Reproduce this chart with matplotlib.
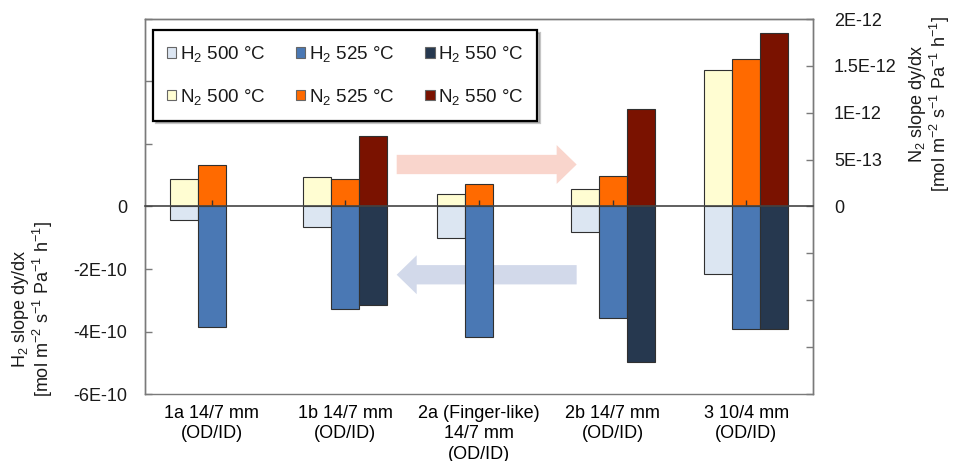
import numpy as np
import matplotlib
matplotlib.use("Agg")
import matplotlib.pyplot as plt
from matplotlib.ticker import FuncFormatter

plt.rcParams['font.family'] = ['Liberation Sans', 'DejaVu Sans']
plt.rcParams['mathtext.fontset'] = 'custom'
plt.rcParams['mathtext.rm'] = 'Liberation Sans'
plt.rcParams['mathtext.it'] = 'Liberation Sans:italic'
plt.rcParams['mathtext.default'] = 'regular'
plt.rcParams['font.size'] = 13
plt.rcParams['text.color'] = '#1a1a1a'

# Module geometries
categories = ["1a 14/7 mm\n(OD/ID)", "1b 14/7 mm\n(OD/ID)",
              "2a (Finger-like)\n14/7 mm\n(OD/ID)", "2b 14/7 mm\n(OD/ID)",
              "3 10/4 mm\n(OD/ID)"]

# H2 slope dy/dx [mol m-2 s-1 Pa-1 h-1] (left axis)
h2_500 = [-0.44e-10, -0.67e-10, -1.01e-10, -0.83e-10, -2.17e-10]
h2_525 = [-3.85e-10, -3.28e-10, -4.18e-10, -3.57e-10, -3.92e-10]
h2_550 = [np.nan, -3.16e-10, np.nan, -4.96e-10, -3.92e-10]

# N2 slope dy/dx [mol m-2 s-1 Pa-1 h-1] (right axis)
n2_500 = [2.95e-13, 3.16e-13, 1.28e-13, 1.88e-13, 1.46e-12]
n2_525 = [4.47e-13, 2.95e-13, 2.45e-13, 3.30e-13, 1.57e-12]
n2_550 = [np.nan, 7.52e-13, np.nan, 1.04e-12, 1.85e-12]

h2_ticks = [-6e-10, -4e-10, -2e-10, 0.0, 2e-10, 4e-10, 6e-10]
n2_ticks = [-2e-12, -1.5e-12, -1e-12, -5e-13, 0.0, 5e-13, 1e-12, 1.5e-12, 2e-12]

h2_colors = ['#DCE6F2', '#4A78B4', '#26384F']
n2_colors = ['#FFFDD2', '#FF6A00', '#7A1200']
temps = ['500', '525', '550']

edge = '#303030'
frame = '#7a7a7a'
fs = 13

fig = plt.figure(figsize=(9.56, 4.61), dpi=100)
ax = fig.add_axes([145 / 956, 1 - 394 / 461, 668 / 956, 375 / 461])
ax2 = ax.twinx()
ax.set_zorder(ax2.get_zorder() + 1)
ax.patch.set_visible(False)

x = np.arange(len(categories))
w = 0.21
offsets = [-w, 0.0, w]

h2_handles = []
for vals, col, off, t in zip([h2_500, h2_525, h2_550], h2_colors, offsets, temps):
    b = ax.bar(x + off, vals, w, color=col, edgecolor=edge, linewidth=0.8,
               label=f'H$_2$ {t} °C', zorder=2)
    h2_handles.append(b)

n2_handles = []
for vals, col, off, t in zip([n2_500, n2_525, n2_550], n2_colors, offsets, temps):
    b = ax2.bar(x + off, vals, w, color=col, edgecolor=edge, linewidth=0.8,
                label=f'N$_2$ {t} °C', zorder=2)
    n2_handles.append(b)

ax.set_xlim(-0.5, len(categories) - 0.5)
ax.set_ylim(h2_ticks[0], h2_ticks[-1])
ax2.set_ylim(n2_ticks[0], n2_ticks[-1])


def excel_sci(v):
    if abs(v) < 1e-20:
        return '0'
    return f'{v:.1E}'.replace('.0E', 'E')


ax.set_yticks(h2_ticks)
ax.yaxis.set_major_formatter(FuncFormatter(lambda v, p: excel_sci(v) if v <= 1e-20 else ''))
ax.tick_params(axis='y', direction='in', length=5, width=1, color=frame, pad=13,
               labelsize=fs, labelcolor='#1a1a1a')

ax2.set_yticks(n2_ticks)
ax2.yaxis.set_major_formatter(FuncFormatter(lambda v, p: excel_sci(v) if v >= -1e-20 else ''))
ax2.tick_params(axis='y', direction='in', length=5, width=1, color=frame, pad=15,
                labelsize=fs, labelcolor='#1a1a1a')

# Category axis crosses at zero
ax.spines['bottom'].set_position(('data', 0))
ax.spines['bottom'].set_color('#444444')
ax.spines['bottom'].set_linewidth(1.2)
ax.set_xticks(x)
ax.tick_params(axis='x', direction='inout', length=8, width=1, color='#333333',
               labelbottom=False)

# Category labels along the bottom of the frame
sec = ax.secondary_xaxis('bottom')
sec.set_xticks(x, categories)
sec.tick_params(length=0, pad=8, labelsize=fs)
sec.spines['bottom'].set_visible(False)
for lbl in sec.get_xticklabels():
    lbl.set_linespacing(1.25)

for a in (ax, ax2):
    for s in ('top', 'left', 'right'):
        a.spines[s].set_color(frame)
        a.spines[s].set_linewidth(1.0)
ax2.spines['bottom'].set_color(frame)
ax2.spines['bottom'].set_linewidth(1.0)

# Direction arrows
ax2.annotate('', xy=(0.6462, 0.612), xytext=(0.3768, 0.612), xycoords='axes fraction',
             arrowprops=dict(arrowstyle='simple,head_length=14.4,head_width=28,tail_width=13.9',
                             mutation_scale=1, color='#F9D5CC', shrinkA=0, shrinkB=0,
                             linewidth=0), zorder=0.5)
ax2.annotate('', xy=(0.3768, 0.318), xytext=(0.6462, 0.318), xycoords='axes fraction',
             arrowprops=dict(arrowstyle='simple,head_length=14.4,head_width=28,tail_width=13.9',
                             mutation_scale=1, color='#D2D9EA', shrinkA=0, shrinkB=0,
                             linewidth=0), zorder=0.5)

handles = []
for hh, nn in zip(h2_handles, n2_handles):
    handles += [hh, nn]
labels = [h.get_label() for h in handles]
leg = ax.legend(handles, labels, ncol=3, loc='upper left',
                bbox_to_anchor=((153 - 145) / 668, (394 - 30) / 375),
                borderaxespad=0, fontsize=13.5, frameon=True, fancybox=False,
                edgecolor='black', framealpha=1, handlelength=0.5, handleheight=0.5,
                handletextpad=0.17, columnspacing=1.65, labelspacing=1.2, borderpad=0.75,
                shadow={'color': '0.5', 'alpha': 0.45})
leg.get_frame().set_linewidth(1.6)
for p in leg.get_patches():
    p.set_edgecolor('#666666')
    p.set_linewidth(0.8)

fig.text(0.034, 0.33, 'H$_2$ slope dy/dx\n[mol m$^{-2}$ s$^{-1}$ Pa$^{-1}$ h$^{-1}$]',
         rotation=90, ha='center', va='center', multialignment='center', fontsize=fs,
         linespacing=1.0)
fig.text(0.972, 0.774, 'N$_2$ slope dy/dx\n[mol m$^{-2}$ s$^{-1}$ Pa$^{-1}$ h$^{-1}$]',
         rotation=90, ha='center', va='center', multialignment='center', fontsize=fs,
         linespacing=1.0)

fig.savefig('out.png', dpi=100, facecolor='white')
